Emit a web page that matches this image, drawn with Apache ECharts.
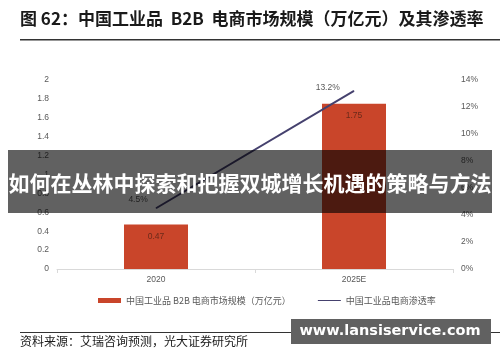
<!DOCTYPE html>
<html><head><meta charset="utf-8">
<script src="https://cdn.jsdelivr.net/npm/echarts@6/dist/echarts.min.js"></script>
<style>html,body{margin:0;padding:0;background:#fff}#c{width:500px;height:362px}</style>
</head><body><div id="c"></div>
<script>
const categories = ['2020', '2025E'];
const marketSize = [0.47, 1.75];
const penetration = [4.5, 13.2];
const leftTicks = {min: 0, max: 2, interval: 0.2};
const rightTicks = {min: 0, max: 14, interval: 2};
const titleText = '图 62：中国工业品  B2B  电商市场规模（万亿元）及其渗透率';
const sourceText = '资料来源：艾瑞咨询预测，光大证券研究所';
const bannerText = '如何在丛林中探索和把握双城增长机遇的策略与方法';
const watermarkText = 'www.lansiservice.com';
const seriesNames = ['中国工业品 B2B 电商市场规模（万亿元）', '中国工业品电商渗透率'];

const chart = echarts.init(document.getElementById('c'), null, {renderer: 'canvas'});
const cjk = '"Noto Sans CJK SC", sans-serif';
const lat = '"Liberation Sans", Arial, sans-serif';
const lineLabelOffsets = [[0, -9], [-6, -3]];
chart.setOption({
  animation: false,
  textStyle: {fontFamily: lat},
  grid: {left: 57, right: 47, top: 80, bottom: 93},
  legend: {
    bottom: 52, left: 93, itemGap: 27, itemWidth: 23, itemHeight: 5,
    textStyle: {fontSize: 9, color: '#595959', fontFamily: cjk},
    data: [{name: seriesNames[0], icon: 'rect'},
           {name: seriesNames[1], icon: 'path://M0,4 L46,4 L46,6 L0,6 Z'}]
  },
  xAxis: {
    type: 'category', data: categories,
    axisLine: {lineStyle: {color: '#d9d9d9'}},
    axisTick: {show: true, length: 4, lineStyle: {color: '#d9d9d9'}},
    axisLabel: {fontSize: 8.5, color: '#595959', margin: 6}
  },
  yAxis: [
    {type: 'value', min: leftTicks.min, max: leftTicks.max, interval: leftTicks.interval,
     splitLine: {show: false}, axisLine: {show: false}, axisTick: {show: false},
     axisLabel: {fontSize: 8.5, color: '#595959', margin: 8}},
    {type: 'value', min: rightTicks.min, max: rightTicks.max, interval: rightTicks.interval,
     splitLine: {show: false}, axisLine: {show: false}, axisTick: {show: false},
     axisLabel: {fontSize: 8.5, color: '#595959', margin: 8, formatter: '{value}%'}}
  ],
  series: [
    {name: seriesNames[0], type: 'bar', data: marketSize, barWidth: 64, yAxisIndex: 0,
     itemStyle: {color: '#c9452a'},
     label: {show: true, position: 'insideTop', distance: 8, fontSize: 8.5, color: '#6b2a1a'}},
    {name: seriesNames[1], type: 'line', yAxisIndex: 1,
     data: penetration.map((v, i) => ({value: v, label: {offset: lineLabelOffsets[i]}})),
     symbol: 'circle', symbolSize: 0.5, lineStyle: {color: '#45416e', width: 2},
     itemStyle: {color: '#45416e'},
     label: {show: true, position: 'left', distance: 8, fontSize: 8.5, color: '#595959',
       formatter: p => p.value + '%'}}
  ],
  graphic: [
    {type: 'text', left: 20, top: 10, style: {text: titleText, font: 'bold 17px ' + cjk, fill: '#1a1a1a'}},
    {type: 'rect', shape: {x: 20, y: 39, width: 480, height: 1.5}, style: {fill: '#333'}},
    {type: 'rect', shape: {x: 20, y: 332, width: 480, height: 1}, style: {fill: '#333'}},
    {type: 'text', left: 20, top: 335, style: {text: sourceText, font: '12px ' + cjk, fill: '#1a1a1a'}},
    {type: 'rect', shape: {x: 291, y: 319, width: 200, height: 25}, style: {fill: '#616161'}},
    {type: 'text', x: 390, y: 331.5, style: {text: watermarkText, font: 'bold 14.5px "DejaVu Sans", sans-serif', fill: '#fff', align: 'center', verticalAlign: 'middle'}},
    {type: 'rect', shape: {x: 8, y: 150, width: 484, height: 63}, style: {fill: 'rgba(0,0,0,0.62)'}, z: 100},
    {type: 'text', x: 250, y: 183, z: 101, style: {text: bannerText, font: 'bold 21px ' + cjk, fill: '#fff', align: 'center', verticalAlign: 'middle'}}
  ]
});
</script></body></html>
